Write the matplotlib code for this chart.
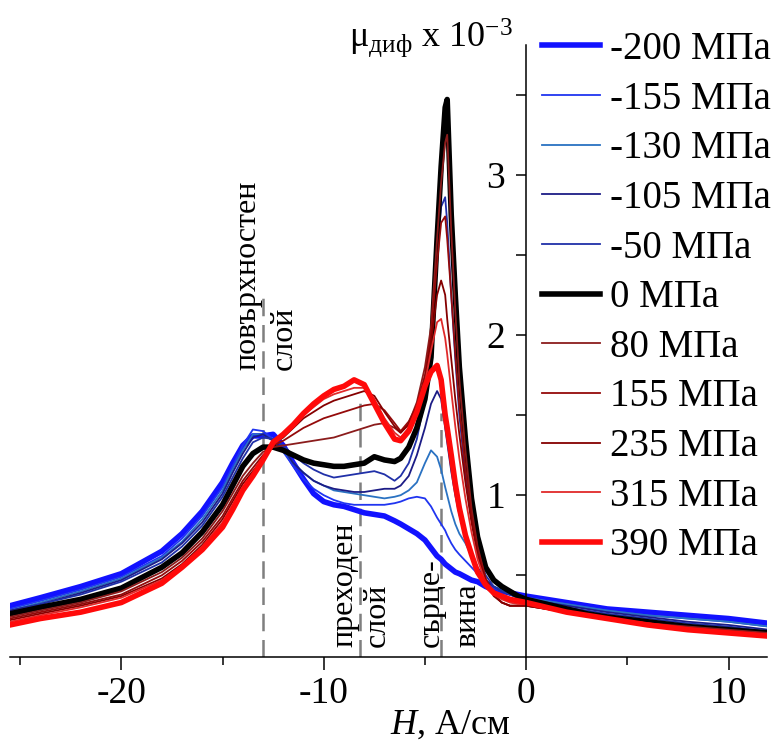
import matplotlib
matplotlib.use("Agg")
import matplotlib.pyplot as plt
from matplotlib.ticker import FixedLocator

plt.rcParams['font.family'] = ['Liberation Serif', 'DejaVu Serif']
plt.rcParams['axes.unicode_minus'] = False
plt.rcParams['mathtext.fontset'] = 'custom'
plt.rcParams['mathtext.rm'] = 'Liberation Serif'
plt.rcParams['mathtext.it'] = 'Liberation Serif:italic'

# ---- data ----
H = [-25.5, -24, -22, -20, -18, -17, -16, -15, -14.5, -14, -13.5, -13, -12.5,
     -12, -11.5, -11, -10.5, -10, -9.5, -9, -8.5, -8, -7.5, -7, -6.5,
     -6.2, -5.8, -5.4, -5.0, -4.7, -4.4, -4.2, -4.0, -3.9, -3.7, -3.5, -3.3, -3.0,
     -2.7, -2.4, -2.0, -1.6, -1.2, -0.8, -0.4, 0,
     1, 2, 3, 4, 6, 8, 10, 12]

labels = ['-200 МПа', '-155 МПа', '-130 МПа', '-105 МПа', '-50 МПа', '0 МПа',
          '80 МПа', '155 МПа', '235 МПа', '315 МПа', '390 МПа']

mu_m200 = [0.31, 0.36, 0.43, 0.51, 0.65, 0.76, 0.90, 1.08, 1.20, 1.31, 1.37, 1.37, 1.38,
           1.31, 1.20, 1.10, 1.01, 0.96, 0.94, 0.93, 0.91, 0.89, 0.88, 0.87, 0.84,
           0.82, 0.79, 0.76, 0.72, 0.67, 0.62, 0.60, 0.57, 0.56, 0.54, 0.52, 0.51, 0.49,
           0.47, 0.46, 0.43, 0.41, 0.40, 0.39, 0.38, 0.37,
           0.35, 0.33, 0.31, 0.29, 0.27, 0.25, 0.23, 0.20]
mu_m155 = [0.29, 0.34, 0.41, 0.49, 0.62, 0.73, 0.87, 1.05, 1.18, 1.31, 1.41, 1.40, 1.35,
           1.27, 1.18, 1.10, 1.04, 1.00, 0.97, 0.95, 0.94, 0.94, 0.94, 0.94, 0.95,
           0.96, 0.98, 0.99, 0.98, 0.93, 0.86, 0.82, 0.78, 0.75, 0.70, 0.66, 0.63, 0.59,
           0.55, 0.51, 0.46, 0.42, 0.40, 0.38, 0.37, 0.36,
           0.34, 0.32, 0.30, 0.28, 0.25, 0.23, 0.21, 0.18]
mu_m130 = [0.28, 0.33, 0.40, 0.48, 0.61, 0.71, 0.85, 1.03, 1.16, 1.28, 1.38, 1.38, 1.34,
           1.28, 1.20, 1.14, 1.09, 1.06, 1.03, 1.02, 1.01, 1.00, 0.99, 0.98, 0.99,
           1.00, 1.03, 1.08, 1.20, 1.28, 1.24, 1.16, 1.05, 1.00, 0.90, 0.82, 0.76, 0.70,
           0.62, 0.54, 0.47, 0.43, 0.41, 0.39, 0.37, 0.36,
           0.34, 0.32, 0.30, 0.28, 0.25, 0.23, 0.21, 0.18]
mu_m105 = [0.28, 0.32, 0.39, 0.47, 0.60, 0.70, 0.83, 1.01, 1.14, 1.26, 1.36, 1.38, 1.34,
           1.29, 1.20, 1.14, 1.09, 1.06, 1.04, 1.03, 1.02, 1.02, 1.03, 1.04, 1.04,
           1.06, 1.12, 1.25, 1.42, 1.57, 1.65, 1.60, 1.42, 1.33, 1.15, 1.00, 0.88, 0.74,
           0.63, 0.55, 0.47, 0.43, 0.40, 0.38, 0.36, 0.35,
           0.33, 0.31, 0.29, 0.27, 0.24, 0.21, 0.19, 0.16]
mu_m50 = [0.27, 0.32, 0.38, 0.46, 0.58, 0.68, 0.81, 0.99, 1.11, 1.23, 1.33, 1.36, 1.35,
          1.31, 1.25, 1.20, 1.16, 1.13, 1.11, 1.12, 1.13, 1.14, 1.15, 1.13, 1.09,
          1.12, 1.20, 1.35, 1.60, 1.95, 2.50, 2.80, 2.86, 2.70, 2.25, 1.85, 1.50, 1.12,
          0.85, 0.65, 0.50, 0.43, 0.40, 0.38, 0.36, 0.35,
          0.33, 0.30, 0.28, 0.26, 0.23, 0.20, 0.18, 0.15]
mu_0 = [0.26, 0.30, 0.35, 0.42, 0.55, 0.64, 0.77, 0.94, 1.06, 1.18, 1.26, 1.30, 1.30,
        1.28, 1.25, 1.22, 1.20, 1.19, 1.18, 1.18, 1.19, 1.20, 1.24, 1.22, 1.21,
        1.23, 1.30, 1.42, 1.60, 1.86, 2.60, 3.05, 3.42, 3.47, 2.75, 2.25, 1.80, 1.35,
        0.98, 0.74, 0.55, 0.47, 0.43, 0.40, 0.37, 0.35,
        0.32, 0.29, 0.26, 0.24, 0.21, 0.18, 0.16, 0.14]
mu_80 = [0.24, 0.28, 0.33, 0.40, 0.52, 0.61, 0.73, 0.90, 1.01, 1.12, 1.20, 1.27, 1.30,
         1.31, 1.32, 1.33, 1.34, 1.35, 1.36, 1.38, 1.40, 1.42, 1.44, 1.45, 1.42,
         1.39, 1.45, 1.58, 1.80, 2.05, 2.60, 2.95, 3.20, 3.25, 2.65, 2.15, 1.72, 1.28,
         0.92, 0.68, 0.48, 0.38, 0.33, 0.31, 0.31, 0.31,
         0.29, 0.27, 0.25, 0.23, 0.20, 0.18, 0.16, 0.14]
mu_155 = [0.23, 0.27, 0.32, 0.38, 0.50, 0.59, 0.71, 0.87, 0.98, 1.09, 1.17, 1.25, 1.31,
          1.34, 1.38, 1.42, 1.45, 1.48, 1.50, 1.52, 1.54, 1.56, 1.57, 1.53, 1.45,
          1.40, 1.46, 1.56, 1.75, 2.00, 2.45, 2.70, 2.74, 2.60, 2.25, 1.88, 1.55, 1.17,
          0.88, 0.66, 0.48, 0.38, 0.33, 0.31, 0.31, 0.31,
          0.29, 0.27, 0.25, 0.23, 0.20, 0.17, 0.15, 0.13]
mu_235 = [0.22, 0.26, 0.31, 0.37, 0.48, 0.57, 0.69, 0.85, 0.96, 1.07, 1.15, 1.23, 1.32,
          1.36, 1.42, 1.48, 1.52, 1.56, 1.59, 1.61, 1.63, 1.65, 1.62, 1.52, 1.43,
          1.39, 1.44, 1.55, 1.72, 1.95, 2.25, 2.34, 2.25, 2.10, 1.85, 1.60, 1.38, 1.08,
          0.83, 0.63, 0.46, 0.37, 0.33, 0.31, 0.31, 0.31,
          0.29, 0.27, 0.25, 0.23, 0.20, 0.17, 0.15, 0.13]
mu_315 = [0.21, 0.25, 0.30, 0.36, 0.47, 0.56, 0.68, 0.83, 0.94, 1.05, 1.13, 1.22, 1.33,
          1.38, 1.44, 1.50, 1.55, 1.60, 1.63, 1.65, 1.67, 1.67, 1.60, 1.48, 1.39,
          1.36, 1.42, 1.53, 1.70, 1.90, 2.08, 2.10, 1.98, 1.88, 1.65, 1.43, 1.23, 0.98,
          0.77, 0.60, 0.45, 0.38, 0.35, 0.33, 0.32, 0.32,
          0.30, 0.27, 0.25, 0.23, 0.20, 0.17, 0.15, 0.13]
mu_390 = [0.19, 0.23, 0.27, 0.33, 0.45, 0.55, 0.66, 0.80, 0.91, 1.03, 1.12, 1.22, 1.33,
          1.38, 1.44, 1.51, 1.57, 1.62, 1.66, 1.68, 1.72, 1.69, 1.57, 1.45, 1.35,
          1.34, 1.40, 1.52, 1.68, 1.77, 1.81, 1.72, 1.50, 1.42, 1.25, 1.07, 0.92, 0.75,
          0.63, 0.52, 0.44, 0.39, 0.37, 0.35, 0.34, 0.33,
          0.30, 0.27, 0.25, 0.23, 0.19, 0.16, 0.14, 0.12]

series = [mu_m200, mu_m155, mu_m130, mu_m105, mu_m50, mu_0,
          mu_80, mu_155, mu_235, mu_315, mu_390]

colors = ['#1212ff', '#2035f0', '#2a72c2', '#1c1c86', '#2030a8', '#000000',
          '#8b1c1c', '#940a0a', '#850000', '#e02a2a', '#ff0a0a']
widths = [4.0, 1.3, 1.3, 1.3, 1.3, 4.0, 1.3, 1.3, 1.3, 1.3, 4.0]

# region boundaries (dashed lines)
bound_H = [-13.0, -8.2, -4.2]
bound_top = [2.24, 1.62, 1.51]

fig = plt.figure(figsize=(7.78, 7.46), dpi=100)
ax = fig.add_axes([10/778, 1-657/746, 757/778, 612/746])

for y, lab, c, w in zip(series, labels, colors, widths):
    ax.plot(H, y, color=c, lw=w, label=lab, solid_joinstyle='round')

for xb, yt in zip(bound_H, bound_top):
    ax.plot([xb, xb], [-0.01, yt], color='#7f7f7f', lw=1.8,
            dashes=(7, 3.5), zorder=0.5)

ax.set_xlim(-25.5, 11.9)
ax.set_ylim(-0.01, 3.81)

ax.spines['top'].set_visible(False)
ax.spines['right'].set_visible(False)
ax.spines['left'].set_position(('data', 0))
ax.spines['left'].set_linewidth(1.1)
ax.spines['bottom'].set_linewidth(1.1)

ax.xaxis.set_major_locator(FixedLocator([-20, -10, 0, 10]))
ax.xaxis.set_minor_locator(FixedLocator([-25, -15, -5, 5]))
ax.yaxis.set_major_locator(FixedLocator([1, 2, 3]))
ax.yaxis.set_minor_locator(FixedLocator([0.5, 1.5, 2.5, 3.5]))
ax.tick_params(axis='x', which='major', direction='out', length=9, width=1.1,
               labelsize=27, pad=5)
ax.tick_params(axis='x', which='minor', direction='out', length=6, width=1.1)
ax.tick_params(axis='y', which='both', direction='out', length=7, width=1.1,
               labelsize=27, pad=8)

ax.set_xlabel(r'$\mathit{H}$, А/см', fontsize=26, labelpad=0)
ax.xaxis.set_label_coords((450 - 10) / 757, -0.085)

ax.text(-8.75, 3.80, r'$\mathrm{μ}_{\mathrm{диф}}$ x 10$^{\mathrm{-3}}$',
        fontsize=26, ha='left', va='baseline')

txt = dict(rotation=90, ha='center', va='bottom', fontsize=23, color='black')
ax.text(-13.75, 1.78, 'повърхностен', **txt)
ax.text(-11.95, 1.78, 'слой', **txt)
ax.text(-8.95, 0.05, 'преходен', **txt)
ax.text(-7.35, 0.05, 'слой', **txt)
ax.text(-4.7, 0.05, 'сърце-', **txt)
ax.text(-2.85, 0.05, 'вина', **txt)

leg = ax.legend(loc='upper left', bbox_to_anchor=(542/778, 1-31/746),
                bbox_transform=fig.transFigure, frameon=False, fontsize=28,
                handlelength=1.5, handletextpad=0.25, labelspacing=0.325,
                borderaxespad=0, borderpad=0)

fig.savefig('out.png', dpi=100)
